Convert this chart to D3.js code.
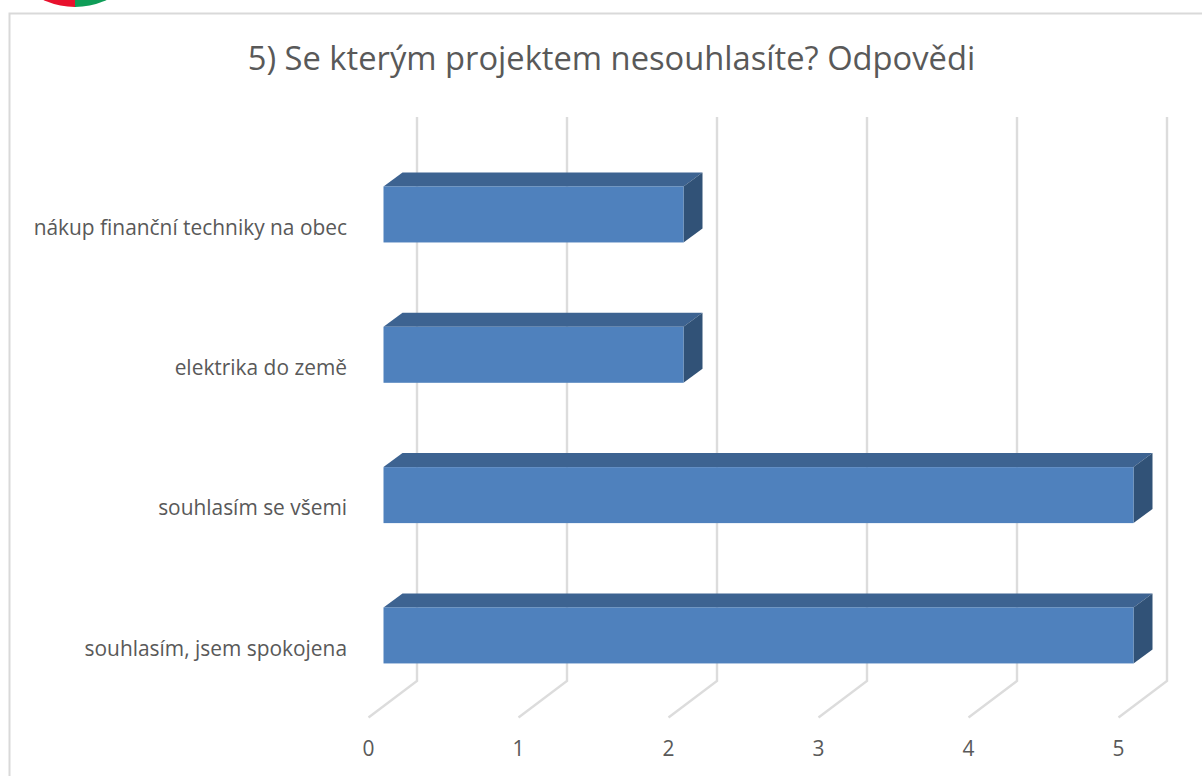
<!DOCTYPE html>
<html><head><meta charset="utf-8">
<script src="https://cdn.jsdelivr.net/npm/d3@7/dist/d3.min.js"></script>
<style>html,body{margin:0;padding:0;background:#fff}svg{display:block}text{font-family:"Open Sans",sans-serif;fill:#595959}</style>
</head><body><svg id="c" width="1202" height="776"></svg>
<script>
const categories = ["nákup finanční techniky na obec","elektrika do země","souhlasím se všemi","souhlasím, jsem spokojena"];
const values = [2,2,5,5];
const ticks = [0,1,2,3,4,5];
const title = "5) Se kterým projektem nesouhlasíte? Odpovědi";
const logoSlices = [{c:"#0f9d58",v:1},{c:"#e8112d",v:1}];

const svg = d3.select("#c");
const depthX = 48.5, depthY = 36.5, barDX = 19, barDY = 14, barH = 56, barInset = 15;
const x = d3.scaleLinear().domain([0,5]).range([368.5,1118.5]);
const y = d3.scaleBand().domain(categories).range([116.3,677.6]);
const barTop = c => y(c) + y.bandwidth()/2;
const barX = v => x(v) + barInset;

// logo fragment
const pie = d3.pie().value(d=>d.v).sort(null).startAngle(Math.PI/2).endAngle(Math.PI*1.5);
svg.append("g").attr("transform","translate(75,-68)").selectAll("path").data(pie(logoSlices)).join("path")
  .attr("d",d3.arc().innerRadius(0).outerRadius(75)).attr("fill",d=>d.data.c);

// frame
svg.append("path").attr("d","M1202,13.5H9.5V776").attr("fill","none").attr("stroke","#d9d9d9").attr("stroke-width",2);

svg.append("text").attr("x",611.5).attr("y",70).attr("text-anchor","middle").attr("font-size",32.7).text(title);

// grid walls
svg.append("g").attr("fill","none").attr("stroke","#dcdcdc").attr("stroke-width",2.4)
  .selectAll("path").data(ticks).join("path")
  .attr("d",t=>`M${x(t)},717.5L${x(t)+depthX},${717.5-depthY}V117`);

// bars
const bars = svg.append("g").selectAll("g").data(categories).join("g");
bars.append("path").attr("fill","#3d6391").attr("d",(c,i)=>
  `M${barX(0)},${barTop(c)}l${barDX},${-barDY}H${barX(values[i])+barDX}l${-barDX},${barDY}Z`);
bars.append("path").attr("fill","#315277").attr("d",(c,i)=>
  `M${barX(values[i])},${barTop(c)}l${barDX},${-barDY}v${barH}l${-barDX},${barDY}Z`);
bars.append("rect").attr("x",barX(0)).attr("y",barTop).attr("width",(c,i)=>barX(values[i])-barX(0)).attr("height",barH).attr("fill","#4f81bd");

// labels
svg.append("g").selectAll("text").data(categories).join("text")
  .attr("x",347).attr("y",c=>barTop(c)+48.3).attr("text-anchor","end").attr("font-size",20.9).text(d=>d);
svg.append("g").selectAll("text").data(ticks).join("text")
  .attr("x",t=>x(t)).attr("y",756).attr("text-anchor","middle").attr("font-size",20.9).text(d=>d);
</script></body></html>
